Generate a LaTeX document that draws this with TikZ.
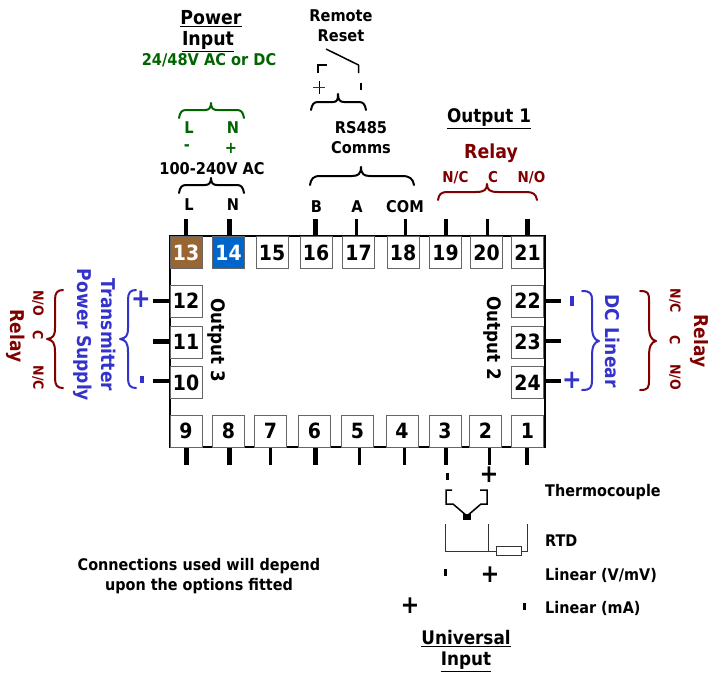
\documentclass[tikz,border=0pt]{standalone}
\usepackage{fontspec}
\setmainfont{DejaVu Sans}[BoldFont={DejaVu Sans Bold},BoldFeatures={FakeStretch=0.9}]
\usetikzlibrary{calc}
\definecolor{grn}{RGB}{0,100,0}
\definecolor{red1}{RGB}{128,0,0}
\definecolor{blu}{RGB}{51,51,204}
\definecolor{brn}{RGB}{153,102,51}
\definecolor{bl2}{RGB}{0,102,204}
\newcommand{\fs}[1]{\fontsize{#1}{#1}\selectfont\bfseries}
\tikzset{
 x=1pt,y=-1pt,
 term/.style={draw=black!60,line width=1pt,minimum width=32pt,minimum height=32pt,inner sep=0pt,fill=white,font=\fs{21}},
 pin/.style={line width=4.5pt},
 pinthin/.style={line width=3pt},
 t/.style={inner sep=0pt,font=\fs{16.2},align=center},
 hd/.style={inner sep=0pt,font=\fs{19.3},align=center},
 s/.style={inner sep=0pt,font=\fs{15},align=center},
 sr/.style={inner sep=0pt,font=\fs{14},align=center,rotate=-90,text=red1},
 rt/.style={inner sep=0pt,font=\fs{19},align=center,rotate=-90},
 brace/.style={line width=2pt,line join=round,line cap=round},
 lbl/.style={inner sep=0pt,font=\fs{16},align=center},
}
\begin{document}
\begin{tikzpicture}
\useasboundingbox (0,0) rectangle (708,673);
\draw[line width=2.5pt] (170,236) rectangle (545,447);
\foreach \n/\x in {15/272,16/316,17/358.5,18/403,19/445.5,20/486.5,21/527.5}{
 \node[term] (t\n) at (\x,252.5) {\n};}
\node[term,fill=brn,text=white] (t13) at (186,252.5) {13};
\node[term,fill=bl2,text=white] (t14) at (228.5,252.5) {14};
\foreach \n/\x in {9/186,8/228.5,7/270.5,6/314.5,5/357.5,4/402,3/445,2/485.5,1/527.5}{
 \node[term] (t\n) at (\x,431) {\n};}
\foreach \n/\y in {12/301,11/342,10/382.5}{
 \node[term] (t\n) at (186,\y) {\n};}
\foreach \n/\y in {22/301,23/342,24/382.5}{
 \node[term] (t\n) at (527.5,\y) {\n};}
% pins
\foreach \x/\k in {186/pin,229.5/pin,315.5/pin,356.5/pinthin,405/pinthin,446/pin,487/pinthin,527.5/pin}{
 \draw[\k] (\x,219) -- (\x,235);}
\foreach \x/\k in {186.5/pin,229.5/pin,270.5/pinthin,315.5/pin,359/pinthin,404/pinthin,446/pin,489/pinthin,527/pin}{
 \draw[\k] (\x,448) -- (\x,465);}
\foreach \y in {301,341.5,381}{\draw[pin] (170,\y) -- (153,\y);}
\foreach \y in {301,341,381}{\draw[pin] (545,\y) -- (561,\y);}
% text top
\node[hd] (pw1) at (211,19) {\underline{Power}};
\node[hd] (pw2) at (208,41.5) {\underline{Input}};
\node[t,text=grn] (pw3) at (209,60.5) {24/48V AC or DC};
\node[t] (rr) at (341,25.5) {Remote\\[4pt]Reset};
\node[t,text=grn] (gl) at (189,127.5) {L};
\node[t,text=grn] (gn) at (233,127.5) {N};
\node[t,text=grn] (gm) at (187,148) {-};
\node[t,text=grn] (gp) at (231,148) {+};
\node[t] (acv) at (212,168.5) {100-240V AC};
\node[t] (l) at (189,204.5) {L};
\node[t] (n) at (233,204.5) {N};
\node[t] (b) at (316.5,206.5) {B};
\node[t] (a) at (357,206.5) {A};
\node[t] (com) at (405,206.5) {COM};
\node[t] (rs) at (361,137.5) {RS485\\[4pt]Comms};
\node[hd,font=\fs{18.7}] (o1) at (489,118.5) {\underline{Output 1}};
\node[hd,text=red1] (r1) at (491,153.5) {Relay};
\node[s,text=red1] (nc1) at (455.5,177.5) {N/C};
\node[s,text=red1] (c1) at (493,177.5) {C};
\node[s,text=red1] (no1) at (531.5,177.5) {N/O};
% braces
\draw[grn,brace] (179,118) .. controls (180,112) and (182,110) .. (186,110) -- (205,110) .. controls (209,110) and (211,108) .. (211,103) .. controls (211,108) and (213,110) .. (217,110) -- (237,110) .. controls (241,110) and (243,112) .. (244,118);
\draw[brace] (179,193) .. controls (180,187) and (182,185) .. (186,185) -- (205,185) .. controls (209,185) and (211,183) .. (211,178) .. controls (211,183) and (213,185) .. (217,185) -- (237,185) .. controls (241,185) and (243,187) .. (244,193);
\draw[brace] (311,110) .. controls (312,104) and (314,102) .. (318,102) -- (333,102) .. controls (337,102) and (338,100) .. (338,94) .. controls (338,100) and (340,102) .. (344,102) -- (359,102) .. controls (363,102) and (365,104) .. (366,110);
\draw[brace] (310,185) .. controls (311,179) and (313,176) .. (320,176) -- (352,176) .. controls (358,176) and (361,174) .. (361,167) .. controls (361,174) and (364,176) .. (370,176) -- (402,176) .. controls (410,176) and (413,179) .. (414,185);
\draw[red1,brace] (438,200) .. controls (439,194) and (441,192) .. (448,192) -- (476,192) .. controls (484,192) and (487,190) .. (487,184) .. controls (487,190) and (490,192) .. (498,192) -- (526,192) .. controls (533,192) and (536,194) .. (537,200);
% remote reset switch
\draw[line width=1.5pt,line join=round] (326,49) -- (358.5,65) -- (358.5,73);
\draw[line width=2pt] (327,65) -- (318,65) -- (318,73);
\draw[line width=.8pt] (319,81) -- (319,94);
\draw[line width=.8pt,black!80] (313,87.5) -- (325,87.5);
\draw[line width=2.5pt] (361,83) -- (361,90);
% right side
\fill[blu] (570,296) rectangle (574,306);
\node[t,font=\fs{26},text=blu] (pp) at (572,380) {+};
\draw[blu,brace] (582,291) .. controls (590,291) and (592,293) .. (592,300) -- (592,326) .. controls (592,335) and (594,340) .. (599,341) .. controls (594,342) and (592,347) .. (592,356) -- (592,380) .. controls (592,388) and (590,390) .. (582,390);
\draw[red1,brace] (640,291) .. controls (648,291) and (649,293) .. (649,300) -- (649,326) .. controls (649,335) and (651,340) .. (656,341) .. controls (651,342) and (649,347) .. (649,356) -- (649,380) .. controls (649,388) and (648,390) .. (640,390);
\node[rt,text=blu] (dcl) at (612.5,341) {DC Linear};
\node[sr] at (675,301) {N/C};
\node[sr] at (675,340) {C};
\node[sr] at (675,377) {N/O};
\node[rt,text=red1] at (700,341) {Relay};
\node[rt,font=\fs{18.6}] (o2) at (492,338) {Output 2};
% left side
\node[t,font=\fs{26},text=blu] at (141,299) {+};
\fill[blu] (139.5,376) rectangle (144,383);
\draw[blu,brace] (136,290) .. controls (130,290) and (128,293) .. (128,300) -- (128,328) .. controls (128,336) and (126,338) .. (120,339) .. controls (126,340) and (128,343) .. (128,352) -- (128,378) .. controls (128,385) and (130,388) .. (136,388);
\draw[red1,brace] (63,290) .. controls (57,290) and (55,293) .. (55,300) -- (55,328) .. controls (55,336) and (53,338) .. (47,339) .. controls (53,340) and (55,343) .. (55,352) -- (55,378) .. controls (55,385) and (57,388) .. (63,388);
\node[rt,text=blu] (tps) at (95,335) {Transmitter\\[5pt]Power Supply};
\node[sr] at (38,303) {N/O};
\node[sr] at (38,335) {C};
\node[sr] at (38,378) {N/C};
\node[rt,text=red1] at (16,336) {Relay};
\node[rt,font=\fs{18.6}] (o3) at (216,340) {Output 3};
% bottom
\draw[line width=3pt] (447.5,473) -- (447.5,480);
\node[t,font=\fs{25}] at (489,475) {+};
\draw[line width=1.5pt] (452,490) -- (446,490) -- (446,504) -- (453,504) -- (467,516) -- (481,504) -- (487,504) -- (487,490) -- (480,490);
\fill (463,514) rectangle (471,520);
\draw[line width=1pt,black!80] (445.5,524) -- (445.5,551) -- (488,551) -- (488,524);
\draw[line width=1pt,black!80] (488,551) -- (496,551);
\draw[line width=1pt,black!80] (521,551) -- (527,551) -- (527,524);
\node[draw=black!80,line width=1pt,minimum width=25pt,minimum height=9pt,inner sep=0pt] (rtd) at (508.5,550.5) {};
\draw[line width=3pt] (445,569) -- (445,576);
\node[t,font=\fs{25}] at (490,575) {+};
\node[t,font=\fs{25}] at (410,606) {+};
\draw[line width=3pt] (524,603) -- (524,610);
\node[lbl,anchor=west] at (545,492) {Thermocouple};
\node[lbl,anchor=west] at (545,540.5) {RTD};
\node[lbl,anchor=west] at (545,575.5) {Linear (V/mV)};
\node[lbl,anchor=west] at (545,608.5) {Linear (mA)};
\node[hd,font=\fs{18.7}] at (466,639) {\underline{Universal}};
\node[hd,font=\fs{18.7}] at (466,662) {\underline{Input}};
\node[lbl] at (199,576.5) {Connections used will depend\\[4pt]upon the options fitted};
\end{tikzpicture}
\end{document}
